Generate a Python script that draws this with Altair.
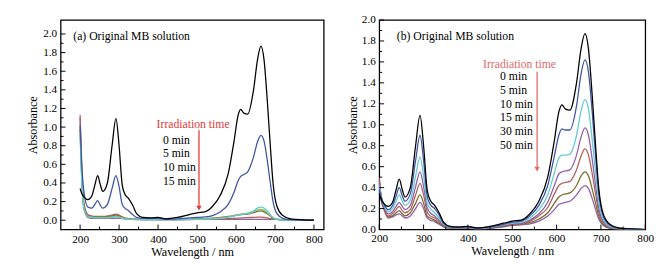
import altair as alt
import pandas as pd

WL = [200, 205, 210, 220, 230, 238, 245, 252, 258, 270, 282, 292, 300, 308, 315,
      325, 335, 345, 360, 380, 400, 420, 450, 480, 500, 520, 540, 560, 580, 595,
      605, 612, 620, 630, 645, 655, 664, 672, 680, 688, 695, 705, 720, 740, 800]

BLACK = [0.34, 0.28, 0.25, 0.22, 0.26, 0.38, 0.48, 0.38, 0.31, 0.40,
         0.80, 1.09, 0.80, 0.38, 0.28, 0.23, 0.16, 0.07, 0.03, 0.025,
         0.03, 0.015, 0.03, 0.06, 0.08, 0.09, 0.15, 0.27, 0.50, 0.85,
         1.12, 1.19, 1.15, 1.14, 1.40, 1.72, 1.87, 1.72, 1.30, 0.80,
         0.40, 0.15, 0.05, 0.015, 0.0]

# Panel (a)
A_BLUE = [1.02, 0.55, 0.30, 0.14, 0.13, 0.17, 0.21, 0.16, 0.13, 0.17,
          0.34, 0.48, 0.36, 0.17, 0.13, 0.10, 0.06, 0.03, 0.02, 0.02,
          0.02, 0.01, 0.015, 0.025, 0.03, 0.035, 0.05, 0.09, 0.17, 0.30,
          0.42, 0.47, 0.49, 0.52, 0.68, 0.84, 0.91, 0.85, 0.65, 0.40,
          0.20, 0.07, 0.02, 0.005, 0.0]
A_CYAN = [0.92, 0.35, 0.12, 0.04, 0.03, 0.025, 0.025, 0.025, 0.025, 0.025,
          0.03, 0.035, 0.03, 0.02, 0.015, 0.01, 0.01, 0.005, 0.005, 0.005,
          0.005, 0.005, 0.005, 0.01, 0.01, 0.012, 0.015, 0.02, 0.03, 0.045,
          0.055, 0.06, 0.065, 0.07, 0.10, 0.13, 0.14, 0.13, 0.10, 0.06,
          0.03, 0.01, 0.003, 0.0, 0.0]
A_GREEN = [0.95, 0.38, 0.13, 0.045, 0.035, 0.03, 0.03, 0.03, 0.03, 0.03,
           0.035, 0.045, 0.035, 0.025, 0.018, 0.012, 0.01, 0.006, 0.005, 0.005,
           0.005, 0.005, 0.005, 0.01, 0.012, 0.015, 0.02, 0.025, 0.035, 0.05,
           0.06, 0.065, 0.07, 0.075, 0.095, 0.11, 0.115, 0.105, 0.08, 0.05,
           0.025, 0.008, 0.002, 0.0, 0.0]
A_OLIVE = [0.98, 0.40, 0.15, 0.05, 0.04, 0.035, 0.035, 0.035, 0.035, 0.04,
           0.045, 0.055, 0.045, 0.03, 0.02, 0.015, 0.01, 0.008, 0.006, 0.005,
           0.005, 0.005, 0.006, 0.01, 0.015, 0.018, 0.022, 0.03, 0.04, 0.05,
           0.055, 0.06, 0.063, 0.065, 0.08, 0.095, 0.10, 0.09, 0.07, 0.045,
           0.02, 0.008, 0.003, 0.0, 0.0]
A_BROWN = [1.10, 0.45, 0.18, 0.06, 0.045, 0.04, 0.04, 0.04, 0.04, 0.045,
           0.055, 0.065, 0.055, 0.035, 0.025, 0.018, 0.012, 0.01, 0.008, 0.006,
           0.006, 0.005, 0.005, 0.006, 0.008, 0.01, 0.012, 0.015, 0.018, 0.02,
           0.022, 0.024, 0.026, 0.028, 0.03, 0.032, 0.033, 0.03, 0.025, 0.018,
           0.012, 0.008, 0.005, 0.003, 0.0]
A_PURPLE = [1.13, 0.40, 0.12, 0.03, 0.02, 0.02, 0.02, 0.02, 0.02, 0.02,
            0.02, 0.022, 0.02, 0.018, 0.015, 0.012, 0.01, 0.01, 0.01, 0.01,
            0.01, 0.01, 0.01, 0.01, 0.01, 0.01, 0.01, 0.01, 0.01, 0.01,
            0.01, 0.01, 0.01, 0.01, 0.01, 0.01, 0.01, 0.01, 0.01, 0.01,
            0.01, 0.008, 0.006, 0.005, 0.004]

# Panel (b)
B_BLUE = [0.38, 0.30, 0.25, 0.19, 0.23, 0.32, 0.40, 0.32, 0.27, 0.34,
          0.66, 0.90, 0.66, 0.32, 0.24, 0.20, 0.14, 0.06, 0.025, 0.02,
          0.025, 0.012, 0.025, 0.05, 0.07, 0.08, 0.13, 0.23, 0.42, 0.70,
          0.90, 0.96, 0.95, 0.95, 1.18, 1.48, 1.62, 1.50, 1.14, 0.70,
          0.35, 0.13, 0.04, 0.012, 0.0]
B_CYAN = [0.42, 0.30, 0.24, 0.17, 0.20, 0.27, 0.33, 0.27, 0.23, 0.28,
          0.51, 0.69, 0.51, 0.26, 0.20, 0.16, 0.11, 0.05, 0.02, 0.018,
          0.02, 0.01, 0.02, 0.045, 0.06, 0.07, 0.11, 0.19, 0.33, 0.54,
          0.68, 0.71, 0.71, 0.72, 0.90, 1.13, 1.24, 1.15, 0.87, 0.54,
          0.27, 0.10, 0.03, 0.01, 0.0]
B_PURPLE = [0.45, 0.30, 0.23, 0.15, 0.17, 0.22, 0.26, 0.22, 0.19, 0.23,
            0.41, 0.55, 0.41, 0.21, 0.16, 0.13, 0.09, 0.04, 0.018, 0.015,
            0.018, 0.009, 0.018, 0.04, 0.055, 0.06, 0.09, 0.15, 0.26, 0.42,
            0.53, 0.55, 0.56, 0.57, 0.71, 0.88, 0.97, 0.90, 0.68, 0.42,
            0.21, 0.08, 0.025, 0.008, 0.0]
B_ORANGE = [0.47, 0.29, 0.22, 0.13, 0.15, 0.19, 0.22, 0.18, 0.16, 0.19,
            0.33, 0.44, 0.33, 0.17, 0.13, 0.11, 0.075, 0.035, 0.015, 0.013,
            0.015, 0.008, 0.015, 0.035, 0.05, 0.055, 0.08, 0.13, 0.21, 0.34,
            0.42, 0.44, 0.45, 0.46, 0.57, 0.70, 0.77, 0.71, 0.54, 0.34,
            0.17, 0.065, 0.02, 0.006, 0.0]
B_OLIVE = [0.48, 0.28, 0.21, 0.12, 0.13, 0.16, 0.18, 0.15, 0.13, 0.16,
           0.25, 0.33, 0.25, 0.13, 0.11, 0.09, 0.06, 0.03, 0.013, 0.011,
           0.013, 0.007, 0.013, 0.03, 0.045, 0.05, 0.065, 0.10, 0.16, 0.25,
           0.31, 0.33, 0.34, 0.35, 0.42, 0.51, 0.55, 0.51, 0.39, 0.25,
           0.13, 0.05, 0.015, 0.005, 0.0]
B_LILAC = [0.50, 0.27, 0.20, 0.11, 0.12, 0.14, 0.15, 0.13, 0.11, 0.13,
           0.20, 0.26, 0.20, 0.11, 0.09, 0.075, 0.05, 0.025, 0.011, 0.01,
           0.011, 0.006, 0.011, 0.025, 0.04, 0.045, 0.055, 0.08, 0.13, 0.19,
           0.24, 0.25, 0.26, 0.27, 0.33, 0.39, 0.42, 0.39, 0.30, 0.19,
           0.10, 0.04, 0.012, 0.004, 0.0]

A_SERIES = ["purple", "brown", "olive", "green", "cyan", "blue", "black"]
A_VALUES = [A_PURPLE, A_BROWN, A_OLIVE, A_GREEN, A_CYAN, A_BLUE, BLACK]
A_COLORS = ["#9060A8", "#B0605A", "#7A6B2C", "#8CBB62", "#66C8D2", "#3D55A5", "#000000"]

B_SERIES = ["lilac", "olive", "orange", "purple", "cyan", "blue", "black"]
B_VALUES = [B_LILAC, B_OLIVE, B_ORANGE, B_PURPLE, B_CYAN, B_BLUE, BLACK]
B_COLORS = ["#A47DBD", "#647345", "#F0883A", "#5B2C83", "#6CC7DA", "#4A5BB0", "#000000"]

X_MAJOR = [200, 300, 400, 500, 600, 700, 800]
X_MINOR = [250, 350, 450, 550, 650, 750]
Y_MAJOR = [0.0, 0.2, 0.4, 0.6, 0.8, 1.0, 1.2, 1.4, 1.6, 1.8, 2.0]
Y_MINOR = [0.1, 0.3, 0.5, 0.7, 0.9, 1.1, 1.3, 1.5, 1.7, 1.9]

A_MIN_LABELS = ["0 min", "5 min", "10 min", "15 min"]
B_MIN_LABELS = ["0 min", "5 min", "10 min", "15 min", "30 min", "50 min"]

FONT = "Liberation Serif"


def long_df(series, values):
    rows = []
    for s, vals in zip(series, values):
        for w, v in zip(WL, vals):
            rows.append({"wl": w, "A": v, "s": s})
    return pd.DataFrame(rows)


def panel(series, values, colors, xdom, ydom, W, H, title, title_x, min_labels,
          irr_x, irr_y, arrow_x, arrow_y1, arrow_y2, lab_x, lab_y, red,
          ytitle_pad, xlab_pad):
    xs = alt.Scale(domain=xdom, nice=False, zero=False)
    ys = alt.Scale(domain=ydom, nice=False, zero=False)
    xax = alt.Axis(title="Wavelength / nm", values=X_MAJOR, format="d",
                   labelPadding=xlab_pad, titlePadding=1,
                   labelOverlap=False, labelFlush=False)
    yax = alt.Axis(title="Absorbance", values=Y_MAJOR, format=".1f",
                   labelPadding=4, titlePadding=ytitle_pad,
                   labelOverlap=False, labelFlush=False)
    df = long_df(series, values)
    lines = alt.Chart(df).mark_line(clip=True, strokeWidth=1.3, interpolate="monotone").encode(
        x=alt.X("wl:Q", scale=xs, axis=xax),
        y=alt.Y("A:Q", scale=ys, axis=yax),
        color=alt.Color("s:N", scale=alt.Scale(domain=series, range=colors), legend=None),
        order=alt.Order("wl:Q"),
    )
    xt_major = alt.Chart(pd.DataFrame({"wl": X_MAJOR})).mark_rule(color="black", strokeWidth=1).encode(
        x=alt.X("wl:Q", scale=xs, axis=xax), y=alt.value(H), y2=alt.value(H - 5))
    xt_minor = alt.Chart(pd.DataFrame({"wl": X_MINOR})).mark_rule(color="black", strokeWidth=1).encode(
        x=alt.X("wl:Q", scale=xs, axis=xax), y=alt.value(H), y2=alt.value(H - 3))
    yt_major = alt.Chart(pd.DataFrame({"A": Y_MAJOR})).mark_rule(color="black", strokeWidth=1).encode(
        y=alt.Y("A:Q", scale=ys, axis=yax), x=alt.value(0), x2=alt.value(5))
    yt_minor = alt.Chart(pd.DataFrame({"A": Y_MINOR})).mark_rule(color="black", strokeWidth=1).encode(
        y=alt.Y("A:Q", scale=ys, axis=yax), x=alt.value(0), x2=alt.value(3))
    one = pd.DataFrame({"k": [0]})
    ttl = alt.Chart(one).mark_text(text=title, font=FONT, fontSize=12, align="left",
                                   baseline="middle", color="black").encode(
        x=alt.value(title_x), y=alt.value(17))
    irr = alt.Chart(one).mark_text(text="Irradiation time", font=FONT, fontSize=12,
                                   align="center", baseline="middle", color=red).encode(
        x=alt.value(irr_x), y=alt.value(irr_y))
    shaft = alt.Chart(one).mark_rule(color=red, strokeWidth=1.3).encode(
        x=alt.value(arrow_x), y=alt.value(arrow_y1), y2=alt.value(arrow_y2 - 5))
    head = alt.Chart(one).mark_point(shape="triangle-down", filled=True, opacity=1,
                                     color=red, size=30).encode(
        x=alt.value(arrow_x), y=alt.value(arrow_y2 - 3))
    labs = alt.Chart(one).mark_text(text=min_labels, font=FONT, fontSize=12, lineHeight=14,
                                    align="left", baseline="top", color="black").encode(
        x=alt.value(lab_x), y=alt.value(lab_y))
    return alt.layer(lines, xt_major, xt_minor, yt_major, yt_minor, ttl, irr,
                     shaft, head, labs).properties(width=W, height=H)


pa = panel(A_SERIES, A_VALUES, A_COLORS, [150, 825], [-0.1, 2.15], 270, 215,
           "(a) Original MB solution", 13, A_MIN_LABELS,
           136, 107, 142, 113, 196, 105, 118, "#E03A3A", 3, 4)
pb = panel(B_SERIES, B_VALUES, B_COLORS, [200, 800], [0.0, 2.0], 273, 215,
           "(b) Original MB solution", 18, B_MIN_LABELS,
           144, 45, 162, 53, 156, 124, 53, "#E06A6A", 2, 3)

chart = alt.hconcat(pa, pb, spacing=21).properties(
    padding={"left": 18, "top": 2, "right": 0, "bottom": 0},
    background="white",
).configure_view(
    stroke="black", strokeWidth=1.3
).configure_axis(
    ticks=False, domain=False, grid=False,
    labelFont=FONT, labelFontSize=11.5, labelColor="black",
    titleFont=FONT, titleFontSize=12.5, titleFontWeight="normal", titleColor="black",
)

chart.save("out.html", embed_options={"renderer": "svg", "actions": False})
